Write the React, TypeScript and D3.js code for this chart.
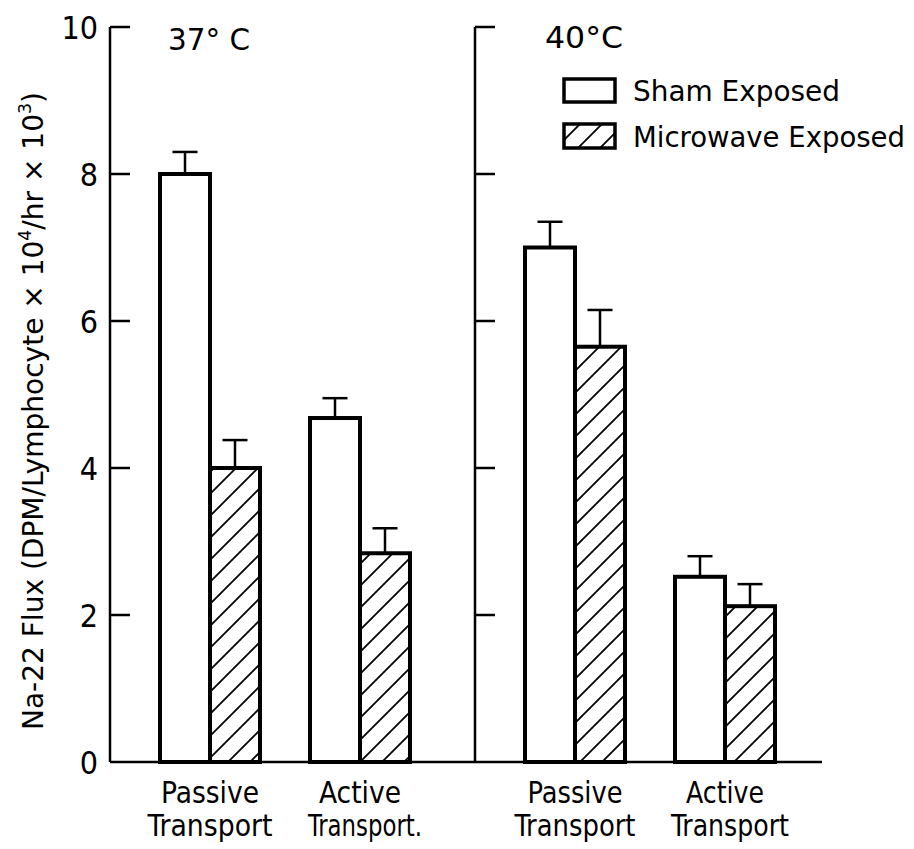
import React from "react";
import * as d3 from "d3";

// ---- data ----
const panels = ["37° C", "40° C"];
const categories = ["Passive", "Active"];
const series = ["Sham Exposed", "Microwave Exposed"];
// values[panel][category] = [sham, microwave]
const sham37 = [8.0, 4.68];
const micro37 = [4.0, 2.84];
const sham40 = [7.0, 2.52];
const micro40 = [5.65, 2.12];
const shamErr37 = [0.3, 0.27];
const microErr37 = [0.38, 0.34];
const shamErr40 = [0.35, 0.28];
const microErr40 = [0.5, 0.3];
const yTicks = [0, 2, 4, 6, 8, 10];

const W = 914;
const H = 849;
const FONT = "'DejaVu Sans Condensed', 'Liberation Sans Narrow', 'DejaVu Sans', sans-serif";

export default function App() {
  const y = d3.scaleLinear().domain([0, 10]).range([762, 27]);
  const panelX = d3.scalePoint<string>().domain(panels).range([110, 475]);
  const catX = d3.scalePoint<string>().domain(categories).range([100, 250]);
  const serX = d3.scaleBand<string>().domain(series).range([-50, 50]).padding(0);

  const panelData = [
    { panel: panels[0], sham: sham37, micro: micro37, shamErr: shamErr37, microErr: microErr37 },
    { panel: panels[1], sham: sham40, micro: micro40, shamErr: shamErr40, microErr: microErr40 },
  ];

  const bars: any[] = [];
  panelData.forEach((p) => {
    categories.forEach((c, ci) => {
      const cx = (panelX(p.panel) as number) + (catX(c) as number);
      [
        { s: series[0], v: p.sham[ci], e: p.shamErr[ci] },
        { s: series[1], v: p.micro[ci], e: p.microErr[ci] },
      ].forEach((b) => {
        bars.push({ x: cx + (serX(b.s) as number), w: serX.bandwidth(), v: b.v, e: b.e, s: b.s, key: p.panel + c + b.s });
      });
    });
  });

  const labelW: Record<string, number[]> = {
    "37° C": [98, 125, 82, 114],
    "40° C": [95, 121, 78, 118],
  };

  return (
    <svg width={W} height={H} viewBox={`0 0 ${W} ${H}`} style={{ display: "block", position: "absolute", left: 0, top: 0, background: "#fff" }}>
      <defs>
        <pattern id="hatch" patternUnits="userSpaceOnUse" width={22} height={22}>
          <path d="M0,22 L22,0 M-5.5,5.5 L5.5,-5.5 M16.5,27.5 L27.5,16.5" stroke="#000" strokeWidth={1.8} />
        </pattern>
      </defs>
      <rect width={W} height={H} fill="#fff" />

      {/* baseline */}
      <line x1={110} x2={822} y1={y(0)} y2={y(0)} stroke="#000" strokeWidth={2.5} />

      {/* axes */}
      {panels.map((p, pi) => {
        const ax = panelX(p) as number;
        return (
          <g key={p}>
            <line x1={ax} x2={ax} y1={y(10)} y2={y(0)} stroke="#000" strokeWidth={2.5} />
            {yTicks.filter((t) => t > 0).map((t) => (
              <line key={t} x1={ax} x2={ax + 20} y1={y(t)} y2={y(t)} stroke="#000" strokeWidth={2.5} />
            ))}
            {pi === 0 &&
              yTicks.map((t) => (
                <text key={"l" + t} x={98} y={y(t)} dy="0.36em" textAnchor="end" fontFamily={FONT} fontSize={32}>
                  {t}
                </text>
              ))}
          </g>
        );
      })}

      {/* panel titles */}
      <text x={168} y={50} fontFamily={FONT} fontSize={31} textLength={82} lengthAdjust="spacingAndGlyphs">37° C</text>
      <text x={545} y={48} fontFamily={FONT} fontSize={31} textLength={78} lengthAdjust="spacingAndGlyphs">40°C</text>

      {/* bars */}
      {bars.map((b) => (
        <g key={b.key}>
          <line x1={b.x + b.w / 2} x2={b.x + b.w / 2} y1={y(b.v)} y2={y(b.v + b.e)} stroke="#000" strokeWidth={2.5} />
          <line x1={b.x + b.w / 2 - 12.5} x2={b.x + b.w / 2 + 12.5} y1={y(b.v + b.e)} y2={y(b.v + b.e)} stroke="#000" strokeWidth={2.5} />
          <rect x={b.x} y={y(b.v)} width={b.w} height={y(0) - y(b.v)} fill={b.s === series[0] ? "#fff" : "url(#hatch)"} stroke="#000" strokeWidth={4} />
        </g>
      ))}

      {/* category labels */}
      {panels.map((p) =>
        categories.map((c, ci) => {
          const cx = (panelX(p) as number) + (catX(c) as number);
          const w = labelW[p];
          const second = p === panels[0] && c === "Active" ? "Transport." : "Transport";
          return (
            <g key={p + c} fontFamily={FONT} fontSize={30}>
              <text x={cx} y={803} textAnchor="middle" textLength={w[ci * 2]} lengthAdjust="spacingAndGlyphs">{c}</text>
              <text x={cx + (ci === 1 ? 5 : 0)} y={836} textAnchor="middle" textLength={w[ci * 2 + 1]} lengthAdjust="spacingAndGlyphs">{second}</text>
            </g>
          );
        })
      )}

      {/* legend */}
      <g fontFamily={FONT} fontSize={29}>
        <rect x={564} y={79} width={51} height={23} fill="#fff" stroke="#000" strokeWidth={3.5} />
        <text x={633} y={101} textLength={207} lengthAdjust="spacingAndGlyphs">Sham  Exposed</text>
        <rect x={564} y={124} width={51} height={24} fill="url(#hatch)" stroke="#000" strokeWidth={3.5} />
        <text x={633} y={147} textLength={272} lengthAdjust="spacingAndGlyphs">Microwave  Exposed</text>
      </g>

      {/* y axis label */}
      <text
        transform={`translate(43, 411) rotate(-90)`}
        textAnchor="middle"
        fontFamily={FONT}
        fontSize={29}
        textLength={638}
        lengthAdjust="spacingAndGlyphs"
      >
        Na-22  Flux (DPM/Lymphocyte × 10<tspan fontSize={18} dy={-12}>4</tspan><tspan dy={12}>/hr × 10</tspan><tspan fontSize={18} dy={-12}>3</tspan><tspan dy={12}>)</tspan>
      </text>
    </svg>
  );
}
